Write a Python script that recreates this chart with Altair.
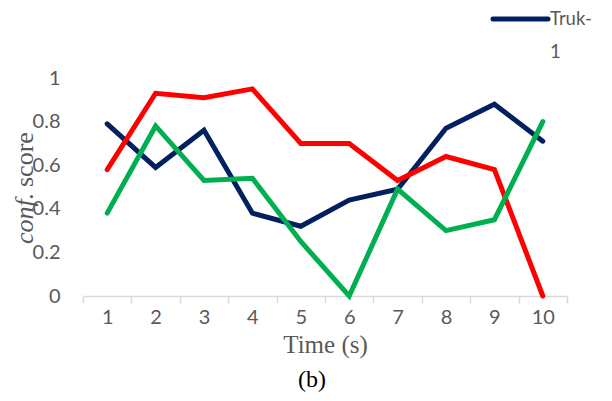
import altair as alt
import pandas as pd

times = [1, 2, 3, 4, 5, 6, 7, 8, 9, 10]
truk1 = [0.79, 0.59, 0.76, 0.38, 0.32, 0.44, 0.49, 0.77, 0.88, 0.71]
truk2 = [0.58, 0.93, 0.91, 0.95, 0.70, 0.70, 0.53, 0.64, 0.58, 0.00]
truk3 = [0.38, 0.78, 0.53, 0.54, 0.25, 0.00, 0.49, 0.30, 0.35, 0.80]
series_names = ["Truk-1", "Truk-2", "Truk-3"]
series_colors = ["#002060", "#FF0000", "#00B050"]
legend_lines = ["Truk-", "1"]
y_ticks = [0, 0.2, 0.4, 0.6, 0.8, 1.0]

rows = []
for name, vals in zip(series_names, [truk1, truk2, truk3]):
    for t, v in zip(times, vals):
        rows.append({"time": t, "value": v, "series": name})
df = pd.DataFrame(rows)

W, H = 484, 218
GRAY = "#595959"

lines = alt.Chart(df).mark_line(strokeWidth=5, strokeCap="round", strokeJoin="miter").encode(
    x=alt.X("time:O",
            scale=alt.Scale(type="band", paddingInner=0, paddingOuter=0),
            axis=alt.Axis(title="Time (s)", labelAngle=0, tickBand="extent",
                          domainColor="#d9d9d9", domainWidth=1.5,
                          tickColor="#d9d9d9", tickWidth=1.5, tickSize=7,
                          labelFont="Lato", labelFontSize=20, labelColor=GRAY,
                          labelPadding=4,
                          titleFont="Liberation Serif", titleFontSize=25,
                          titleFontWeight="normal", titleColor=GRAY, titlePadding=5)),
    y=alt.Y("value:Q", scale=alt.Scale(domain=[0, 1]),
            axis=alt.Axis(title=None, values=y_ticks, format="~g", grid=False,
                          domain=False, ticks=False,
                          labelFont="Lato", labelFontSize=20, labelColor=GRAY,
                          labelPadding=23)),
    color=alt.Color("series:N", scale=alt.Scale(domain=series_names, range=series_colors),
                    legend=None),
    order=alt.Order("time:O"),
)

one = pd.DataFrame({"k": [0]})

legend_line = alt.Chart(one).mark_rule(color="#002060", strokeWidth=5, strokeCap="round").encode(
    x=alt.value(410), x2=alt.value(465), y=alt.value(-59)
)
legend_text = alt.Chart(one).mark_text(text=legend_lines, font="Lato", fontSize=18.5, color=GRAY,
                                       align="left", baseline="middle", lineHeight=33).encode(
    x=alt.value(467), y=alt.value(-59)
)

ytitle_a = alt.Chart(one).mark_text(text="conf.", font="Liberation Serif", fontSize=26,
                                    fontStyle="italic", color=GRAY, angle=270,
                                    align="left", baseline="alphabetic").encode(
    x=alt.value(-50), y=alt.value(166)
)
ytitle_b = alt.Chart(one).mark_text(text="score", font="Liberation Serif", fontSize=26,
                                    color=GRAY, angle=270,
                                    align="left", baseline="alphabetic").encode(
    x=alt.value(-50), y=alt.value(109)
)

caption = alt.Chart(one).mark_text(text="(b)", font="Liberation Serif", fontSize=24,
                                   color="#000000", align="center", baseline="middle").encode(
    x=alt.value(229), y=alt.value(302)
)

chart = alt.layer(lines, legend_line, legend_text, ytitle_a, ytitle_b, caption).properties(
    width=W, height=H,
    autosize=alt.AutoSizeParams(type="none"),
    padding={"left": 75, "top": 70, "right": 37, "bottom": 97},
    background="white",
).configure_view(stroke=None)

chart.save("out.html", embed_options={"renderer": "svg", "actions": False})
